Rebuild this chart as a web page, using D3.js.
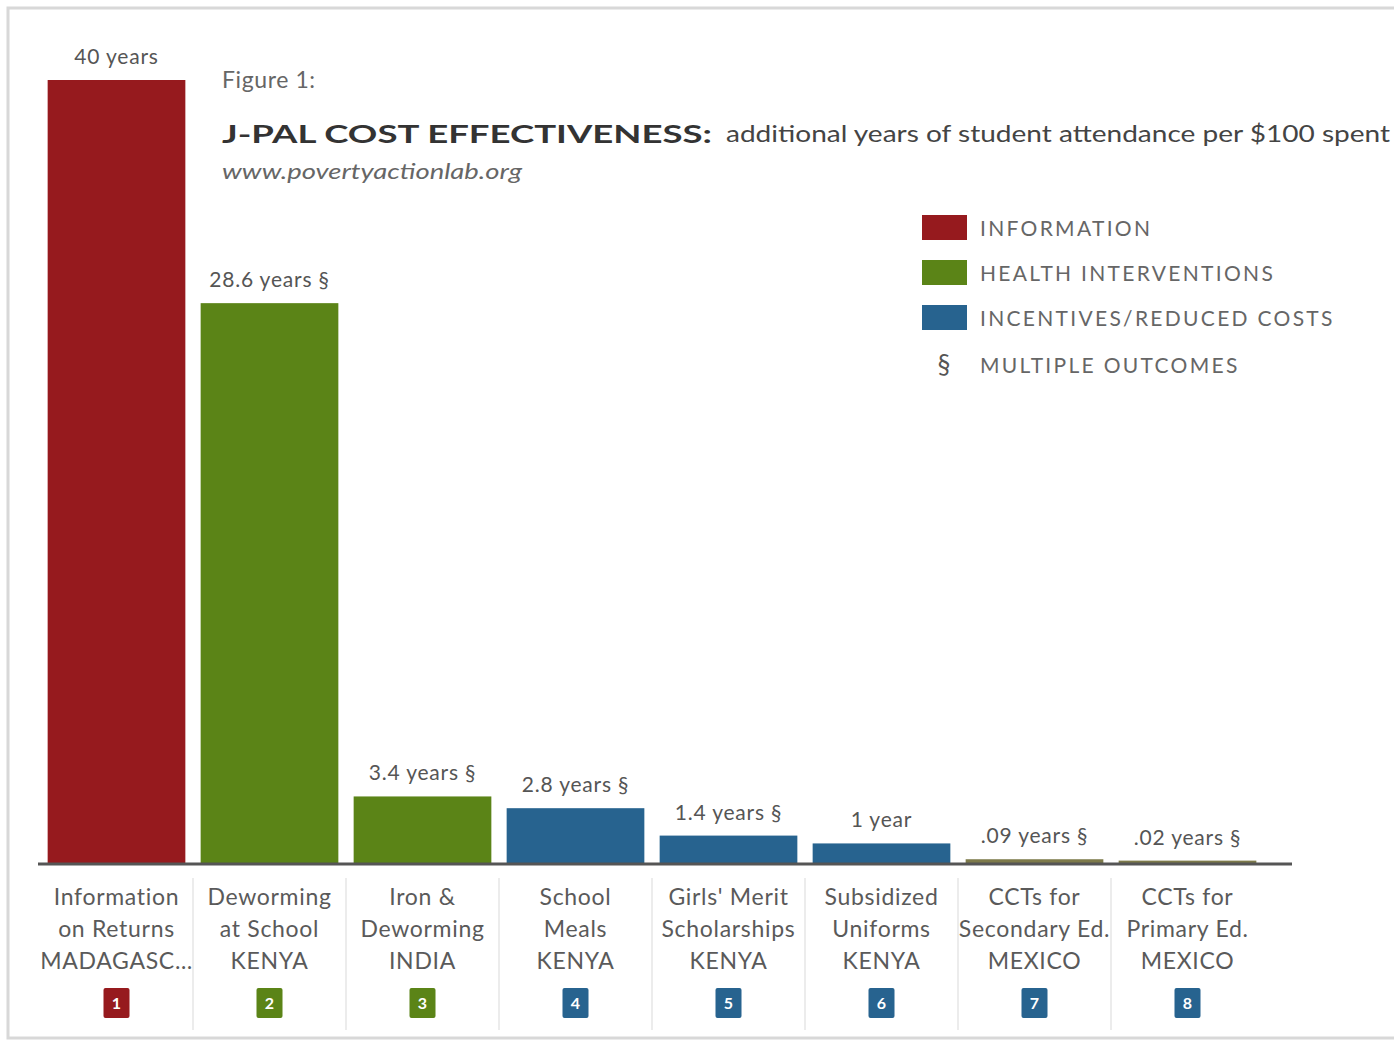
<!DOCTYPE html>
<html>
<head>
<meta charset="utf-8">
<script src="https://cdn.jsdelivr.net/npm/d3@7"></script>
<style>
  body { margin: 0; background: #fff; }
  text { font-family: Lato, "Open Sans", sans-serif; }
</style>
</head>
<body>
<div id="chart"></div>
<script>
//constants
const width = 1394;
const height = 1042;
const baseY = 863;

//data
const programs = ["Information on Returns", "Deworming at School", "Iron & Deworming", "School Meals",
  "Girls' Merit Scholarships", "Subsidized Uniforms", "CCTs for Secondary Ed.", "CCTs for Primary Ed."];
const labelLines = [
  ["Information", "on Returns", "MADAGASC…"],
  ["Deworming", "at School", "KENYA"],
  ["Iron &", "Deworming", "INDIA"],
  ["School", "Meals", "KENYA"],
  ["Girls' Merit", "Scholarships", "KENYA"],
  ["Subsidized", "Uniforms", "KENYA"],
  ["CCTs for", "Secondary Ed.", "MEXICO"],
  ["CCTs for", "Primary Ed.", "MEXICO"],
];
const years = [40, 28.6, 3.4, 2.8, 1.4, 1, 0.09, 0.02];
const valueLabels = ["40 years", "28.6 years", "3.4 years", "2.8 years", "1.4 years", "1 year", ".09 years", ".02 years"];
const multiple = [false, true, true, true, true, false, true, true];
const groups = ["info", "health", "health", "incent", "incent", "incent", "incent", "incent"];
const legendKeys = ["info", "health", "incent"];
const legendNames = ["INFORMATION", "HEALTH INTERVENTIONS", "INCENTIVES/REDUCED COSTS"];

const color = d3.scaleOrdinal().domain(legendKeys).range(["#961a1e", "#5b8417", "#27638f"]);
// the tiny CCT bars look olive/brown in the picture
const barFill = (i) => (years[i] < 0.5 ? "#7d7a4a" : color(groups[i]));

const svg = d3.select("#chart").append("svg")
  .attr("width", width).attr("height", height);

// photo frame
svg.append("rect").attr("x", 8).attr("y", 8).attr("width", width).attr("height", 1030)
  .attr("fill", "#fff").attr("stroke", "#d8d8d8").attr("stroke-width", 3);

//scales
const x = d3.scaleBand()
  .domain(d3.range(programs.length))
  .range([40, 1264])
  .paddingInner(0.1)
  .paddingOuter(0.05);

const y = d3.scaleLinear().domain([0, 40]).range([baseY, 80]);

// column separators under the axis
svg.selectAll(".sep")
  .data(d3.range(1, programs.length))
  .join("line")
  .attr("x1", (i) => x(i) - x.step() * 0.05)
  .attr("x2", (i) => x(i) - x.step() * 0.05)
  .attr("y1", 878).attr("y2", 1030)
  .attr("stroke", "#ececec").attr("stroke-width", 2);

//bars
svg.selectAll(".bar")
  .data(years)
  .join("rect")
  .attr("class", "bar")
  .attr("x", (d, i) => x(i))
  .attr("y", (d) => y(d) - (d < 0.5 ? 2 : 0))
  .attr("width", x.bandwidth())
  .attr("height", (d) => baseY - y(d) + (d < 0.5 ? 2 : 0))
  .attr("fill", (d, i) => barFill(i));

// baseline
svg.append("line")
  .attr("x1", 38).attr("x2", 1292)
  .attr("y1", baseY + 1).attr("y2", baseY + 1)
  .attr("stroke", "#555").attr("stroke-width", 3);

//value labels
svg.selectAll(".val")
  .data(years)
  .join("text")
  .attr("class", "val")
  .attr("x", (d, i) => x(i) + x.bandwidth() / 2)
  .attr("y", (d) => y(d) - (d < 0.5 ? 18 : 16))
  .attr("text-anchor", "middle")
  .attr("font-size", 21)
  .attr("letter-spacing", 0.8)
  .attr("fill", "#555")
  .text((d, i) => valueLabels[i] + (multiple[i] ? " §" : ""));

//category labels
const cat = svg.selectAll(".cat")
  .data(labelLines)
  .join("text")
  .attr("class", "cat")
  .attr("text-anchor", "middle")
  .attr("font-size", 23)
  .attr("letter-spacing", 0.7)
  .attr("fill", "#5a5a5a");
cat.selectAll("tspan")
  .data((d, i) => d.map((t) => ({ t, i })))
  .join("tspan")
  .attr("x", (d) => x(d.i) + x.bandwidth() / 2)
  .attr("y", (d, j) => 905 + j * 32)
  .text((d) => d.t);

// number badges
const badge = svg.selectAll(".badge")
  .data(programs)
  .join("g")
  .attr("transform", (d, i) => `translate(${x(i) + x.bandwidth() / 2}, 1003)`);
badge.append("rect")
  .attr("x", -13).attr("y", -15).attr("width", 26).attr("height", 30).attr("rx", 2)
  .attr("fill", (d, i) => color(groups[i]));
badge.append("text")
  .attr("text-anchor", "middle").attr("dy", "0.36em")
  .attr("font-size", 16).attr("font-weight", "bold").attr("fill", "#fff")
  .text((d, i) => i + 1);

//titles
svg.append("text").attr("x", 222).attr("y", 88)
  .attr("font-size", 23).attr("letter-spacing", 0.6).attr("fill", "#666").text("Figure 1:");
svg.append("text").attr("x", 222).attr("y", 143)
  .attr("font-family", "'DejaVu Sans', sans-serif")
  .attr("font-size", 25).attr("font-weight", "bold").attr("fill", "#333")
  .attr("textLength", 490).attr("lengthAdjust", "spacingAndGlyphs")
  .text("J-PAL COST EFFECTIVENESS:");
svg.append("text").attr("x", 726).attr("y", 142)
  .attr("font-size", 23).attr("fill", "#444")
  .attr("textLength", 664).attr("lengthAdjust", "spacingAndGlyphs")
  .text("additional years of student attendance per $100 spent");
svg.append("text").attr("x", 222).attr("y", 179)
  .attr("font-size", 21).attr("font-style", "italic").attr("fill", "#666")
  .attr("textLength", 300).attr("lengthAdjust", "spacingAndGlyphs")
  .text("www.povertyactionlab.org");

//legend
const legend = svg.selectAll(".leg")
  .data(legendKeys)
  .join("g")
  .attr("transform", (d, i) => `translate(922, ${228 + i * 45})`);
legend.append("rect")
  .attr("x", 0).attr("y", -13).attr("width", 45).attr("height", 25)
  .attr("fill", (d) => color(d));
legend.append("text")
  .attr("x", 58).attr("dy", "0.36em")
  .attr("font-size", 21).attr("fill", "#666").attr("letter-spacing", 2.3)
  .text((d, i) => legendNames[i]);
svg.append("text").attr("x", 944).attr("y", 374).attr("text-anchor", "middle")
  .attr("font-size", 26).attr("fill", "#555").text("§");
svg.append("text").attr("x", 980).attr("y", 373)
  .attr("font-size", 21).attr("fill", "#666").attr("letter-spacing", 2.3)
  .text("MULTIPLE OUTCOMES");
</script>
</body>
</html>
